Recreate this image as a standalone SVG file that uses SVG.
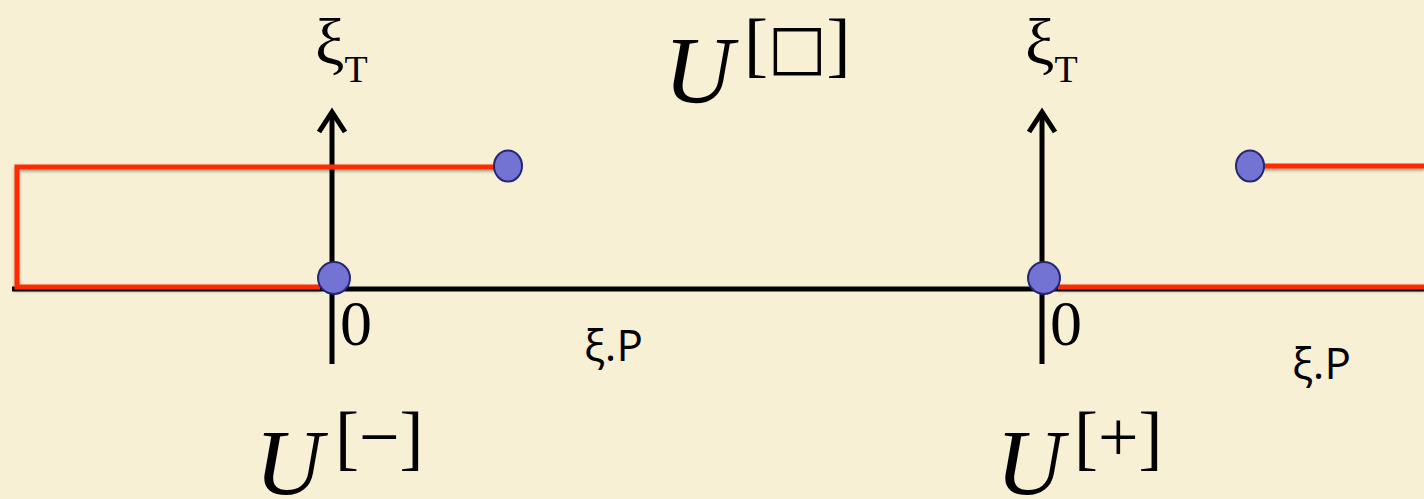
<svg xmlns="http://www.w3.org/2000/svg" width="1424" height="499" viewBox="0 0 1424 499">
  <style>
    .axis { stroke: #000; stroke-width: 5; fill: none; }
    .red { stroke: #ff2a00; stroke-width: 5; fill: none; }
    .dot { fill: #7373d4; stroke: #262673; stroke-width: 2; }
    .serif { font-family: "Liberation Serif", "DejaVu Serif", serif; fill: #000; }
    .sans { font-family: "Open Sans", "Noto Sans", sans-serif; fill: #000; }
  </style>
  <defs>
    <filter id="shadow" filterUnits="userSpaceOnUse" x="0" y="0" width="1424" height="499">
      <feDropShadow dx="0" dy="2" stdDeviation="1.5" flood-color="#000" flood-opacity="0.35"/>
    </filter>
  </defs>
  <rect x="0" y="0" width="1424" height="499" fill="#f8f0d4"/>

  <g id="connectors">
    <line class="axis" x1="12" y1="289" x2="1424" y2="289"/>
    <line class="axis" x1="332" y1="364" x2="332" y2="112"/>
    <polyline class="axis" points="319,132 332,112 345,132"/>
    <line class="axis" x1="1042" y1="364" x2="1042" y2="112"/>
    <polyline class="axis" points="1029,132 1042,112 1055,132"/>
    <g filter="url(#shadow)">
      <polyline class="red" points="320,287 17,287 17,167 496,167"/>
      <line class="red" x1="1058" y1="287" x2="1424" y2="287"/>
      <line class="red" x1="1262" y1="166" x2="1424" y2="166"/>
    </g>
  </g>

  <g id="dot-left-origin"><ellipse class="dot" cx="334" cy="278" rx="16" ry="16"/></g>
  <g id="dot-left-top"><ellipse class="dot" cx="508" cy="166" rx="14" ry="15.5"/></g>
  <g id="dot-right-origin"><ellipse class="dot" cx="1044" cy="278" rx="16" ry="16"/></g>
  <g id="dot-right-top"><ellipse class="dot" cx="1250" cy="166" rx="14" ry="15.5"/></g>

  <g id="label-xiT-left">
    <text class="serif" x="315" y="64" font-size="66">ξ<tspan font-size="38" dy="18">T</tspan></text>
  </g>
  <g id="label-xiT-right">
    <text class="serif" x="1025" y="64" font-size="66">ξ<tspan font-size="38" dy="18">T</tspan></text>
  </g>
  <g id="label-U-box">
    <text class="serif" x="664" y="103" font-size="96" font-style="italic">U</text>
    <text class="serif" x="744" y="68" font-size="72">[<tspan font-family="DejaVu Sans, sans-serif" font-size="62">□</tspan>]</text>
  </g>
  <g id="label-U-minus">
    <text class="serif" x="255" y="494" font-size="94" font-style="italic">U</text>
    <text class="serif" x="335" y="461" font-size="72">[−]</text>
  </g>
  <g id="label-U-plus">
    <text class="serif" x="996" y="494" font-size="94" font-style="italic">U</text>
    <text class="serif" x="1074" y="461" font-size="72">[+]</text>
  </g>
  <g id="label-zero-left"><text class="serif" x="340" y="345" font-size="64">0</text></g>
  <g id="label-zero-right"><text class="serif" x="1050" y="345" font-size="64">0</text></g>
  <g id="label-xiP-left"><text class="sans" x="584" y="361" font-size="44">ξ.P</text></g>
  <g id="label-xiP-right"><text class="sans" x="1292" y="379" font-size="44">ξ.P</text></g>
</svg>
